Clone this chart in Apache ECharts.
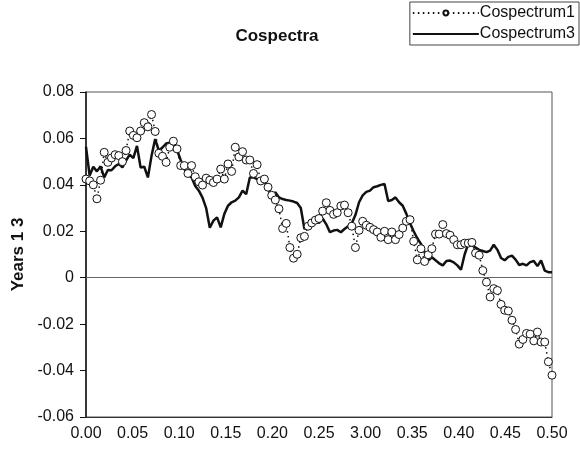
<!DOCTYPE html>
<html>
<head>
<meta charset="utf-8">
<script src="https://cdn.jsdelivr.net/npm/echarts@6/dist/echarts.min.js"></script>
<style>
  html, body { margin: 0; padding: 0; background: #fff; }
  #chart { width: 580px; height: 449px; }
</style>
</head>
<body>
<div id="chart"></div>
<script>
// Cospectral estimates on a regular frequency grid (0 … 0.5, 128 steps)
const nSteps = 128;
const frequency = [];
for (let i = 0; i <= nSteps; i++) frequency.push(i * 0.5 / nSteps);

const cospectrum1 = [
  0.0425, 0.0417, 0.0400, 0.0340, 0.0420, 0.0540, 0.0497, 0.0516, 0.0530, 0.0526,
  0.0500, 0.0548, 0.0632, 0.0613, 0.0603, 0.0632, 0.0668, 0.0650, 0.0703, 0.0630,
  0.0536, 0.0523, 0.0497, 0.0562, 0.0588, 0.0555, 0.0483, 0.0483, 0.0449, 0.0483,
  0.0435, 0.0413, 0.0399, 0.0429, 0.0420, 0.0410, 0.0425, 0.0468, 0.0425, 0.0490,
  0.0458, 0.0562, 0.0520, 0.0543, 0.0507, 0.0507, 0.0449, 0.0487, 0.0417, 0.0425,
  0.0390, 0.0355, 0.0335, 0.0297, 0.0212, 0.0234, 0.0130, 0.0084, 0.0101, 0.0172,
  0.0178, 0.0222, 0.0236, 0.0248, 0.0255, 0.0287, 0.0323, 0.0290, 0.0273, 0.0280,
  0.0309, 0.0313, 0.0280, 0.0222, 0.0130, 0.0204, 0.0243, 0.0226, 0.0217, 0.0207,
  0.0197, 0.0174, 0.0200, 0.0164, 0.0197, 0.0164, 0.0186, 0.0214, 0.0243, 0.0250,
  0.0157, 0.0077, 0.0125, 0.0070, 0.0099, 0.0125, 0.0188, 0.0188, 0.0229, 0.0190,
  0.0183, 0.0164, 0.0142, 0.0142, 0.0149, 0.0149, 0.0152, 0.0106, 0.0097, 0.0031,
  -0.0019, -0.0083, -0.0047, -0.0055, -0.0115, -0.0140, -0.0143, -0.0183, -0.0223, -0.0286,
  -0.0266, -0.0240, -0.0243, -0.0272, -0.0234, -0.0277, -0.0277, -0.0362, -0.0420
];

const cospectrum3 = [
  0.0564, 0.0440, 0.0478, 0.0458, 0.0480, 0.0432, 0.0464, 0.0463, 0.0480, 0.0490,
  0.0475, 0.0505, 0.0530, 0.0515, 0.0568, 0.0475, 0.0478, 0.0432, 0.0525, 0.0597,
  0.0547, 0.0561, 0.0578, 0.0582, 0.0575, 0.0550, 0.0507, 0.0468, 0.0445, 0.0432,
  0.0395, 0.0375, 0.0345, 0.0300, 0.0215, 0.0246, 0.0260, 0.0217, 0.0275, 0.0310,
  0.0325, 0.0332, 0.0346, 0.0375, 0.0360, 0.0432, 0.0432, 0.0425, 0.0408, 0.0418,
  0.0382, 0.0350, 0.0368, 0.0346, 0.0339, 0.0335, 0.0332, 0.0328, 0.0322, 0.0300,
  0.0210, 0.0220, 0.0232, 0.0242, 0.0236, 0.0255, 0.0230, 0.0196, 0.0203, 0.0206,
  0.0196, 0.0210, 0.0222, 0.0235, 0.0270, 0.0325, 0.0355, 0.0370, 0.0375, 0.0390,
  0.0394, 0.0400, 0.0404, 0.0330, 0.0335, 0.0346, 0.0325, 0.0310, 0.0275, 0.0235,
  0.0200, 0.0170, 0.0146, 0.0110, 0.0074, 0.0088, 0.0075, 0.0062, 0.0053, 0.0072,
  0.0074, 0.0066, 0.0053, 0.0034, 0.0100, 0.0146, 0.0139, 0.0130, 0.0120, 0.0115,
  0.0110, 0.0117, 0.0142, 0.0120, 0.0085, 0.0075, 0.0090, 0.0095, 0.0078, 0.0055,
  0.0060, 0.0053, 0.0067, 0.0072, 0.0050, 0.0074, 0.0031, 0.0024, 0.0024
];

const xTickLabels = ['0.00', '0.05', '0.10', '0.15', '0.20', '0.25', '3.00', '0.35', '0.40', '0.45', '0.50'];
const yTickLabels = ['-0.06', '-0.04', '-0.02', '0', '0.02', '0.04', '0.06', '0.08'];

const pairs = (ys) => frequency.map((f, i) => [f, ys[i]]);

const font = 'Liberation Sans, Arial, sans-serif';
const chart = echarts.init(document.getElementById('chart'), null, { renderer: 'canvas' });

chart.setOption({
  animation: false,
  backgroundColor: '#ffffff',
  title: {
    text: 'Cospectra',
    left: 272,
    top: 23,
    textAlign: 'center',
    textStyle: { fontFamily: font, fontSize: 17, fontWeight: 'bold', color: '#111' }
  },
  legend: {
    orient: 'vertical',
    right: 1,
    top: 2,
    itemGap: 5,
    itemWidth: 66,
    itemHeight: 6,
    padding: [3, 4, 3, 2],
    borderColor: '#444',
    borderWidth: 1,
    textStyle: { fontFamily: font, fontSize: 16, color: '#111', padding: [0, 0, 0, -4] },
    data: [
      { name: 'Cospectrum1' },
      { name: 'Cospectrum3', itemStyle: { opacity: 0, borderWidth: 0 } }
    ]
  },
  grid: {
    show: true,
    left: 86, right: 28, top: 92, bottom: 32,
    borderColor: '#555', borderWidth: 1,
    containLabel: false
  },
  xAxis: {
    type: 'value',
    min: 0, max: 0.5, interval: 0.05,
    axisLine: { onZero: false, show: true, lineStyle: { color: '#333', width: 1 } },
    axisTick: { show: false },
    splitLine: { show: false },
    axisLabel: {
      fontFamily: font, fontSize: 16, color: '#111', margin: 9,
      formatter: (v) => xTickLabels[Math.round(v / 0.05)]
    }
  },
  yAxis: {
    type: 'value',
    min: -0.06, max: 0.08, interval: 0.02,
    name: 'Years 1 3',
    nameLocation: 'middle',
    nameGap: 56,
    nameTextStyle: { fontFamily: font, fontSize: 17, fontWeight: 'bold', color: '#111' },
    axisLine: { show: true, lineStyle: { color: '#111', width: 1.5 } },
    axisTick: { show: true, length: 6, lineStyle: { color: '#111', width: 1 } },
    splitLine: { show: false },
    axisLabel: {
      fontFamily: font, fontSize: 16, color: '#111', margin: 12,
      formatter: (v) => yTickLabels[Math.round((v + 0.06) / 0.02)]
    }
  },
  series: [
    {
      name: 'Cospectrum3',
      type: 'line',
      data: pairs(cospectrum3),
      showSymbol: false,
      symbol: 'none',
      lineStyle: { color: '#111', width: 2.5, type: 'solid' },
      itemStyle: { color: '#111' },
      z: 2,
      markLine: {
        silent: true,
        symbol: 'none',
        label: { show: false },
        lineStyle: { color: '#666', width: 1, type: 'solid' },
        data: [{ yAxis: 0 }]
      }
    },
    {
      name: 'Cospectrum1',
      type: 'line',
      data: pairs(cospectrum1),
      symbol: 'circle',
      symbolSize: 8,
      showAllSymbol: true,
      lineStyle: { color: '#111', width: 1.5, type: [1.5, 3.5] },
      itemStyle: { color: '#fff', borderColor: '#111', borderWidth: 1 },
      z: 3
    }
  ]
});
</script>
</body>
</html>
